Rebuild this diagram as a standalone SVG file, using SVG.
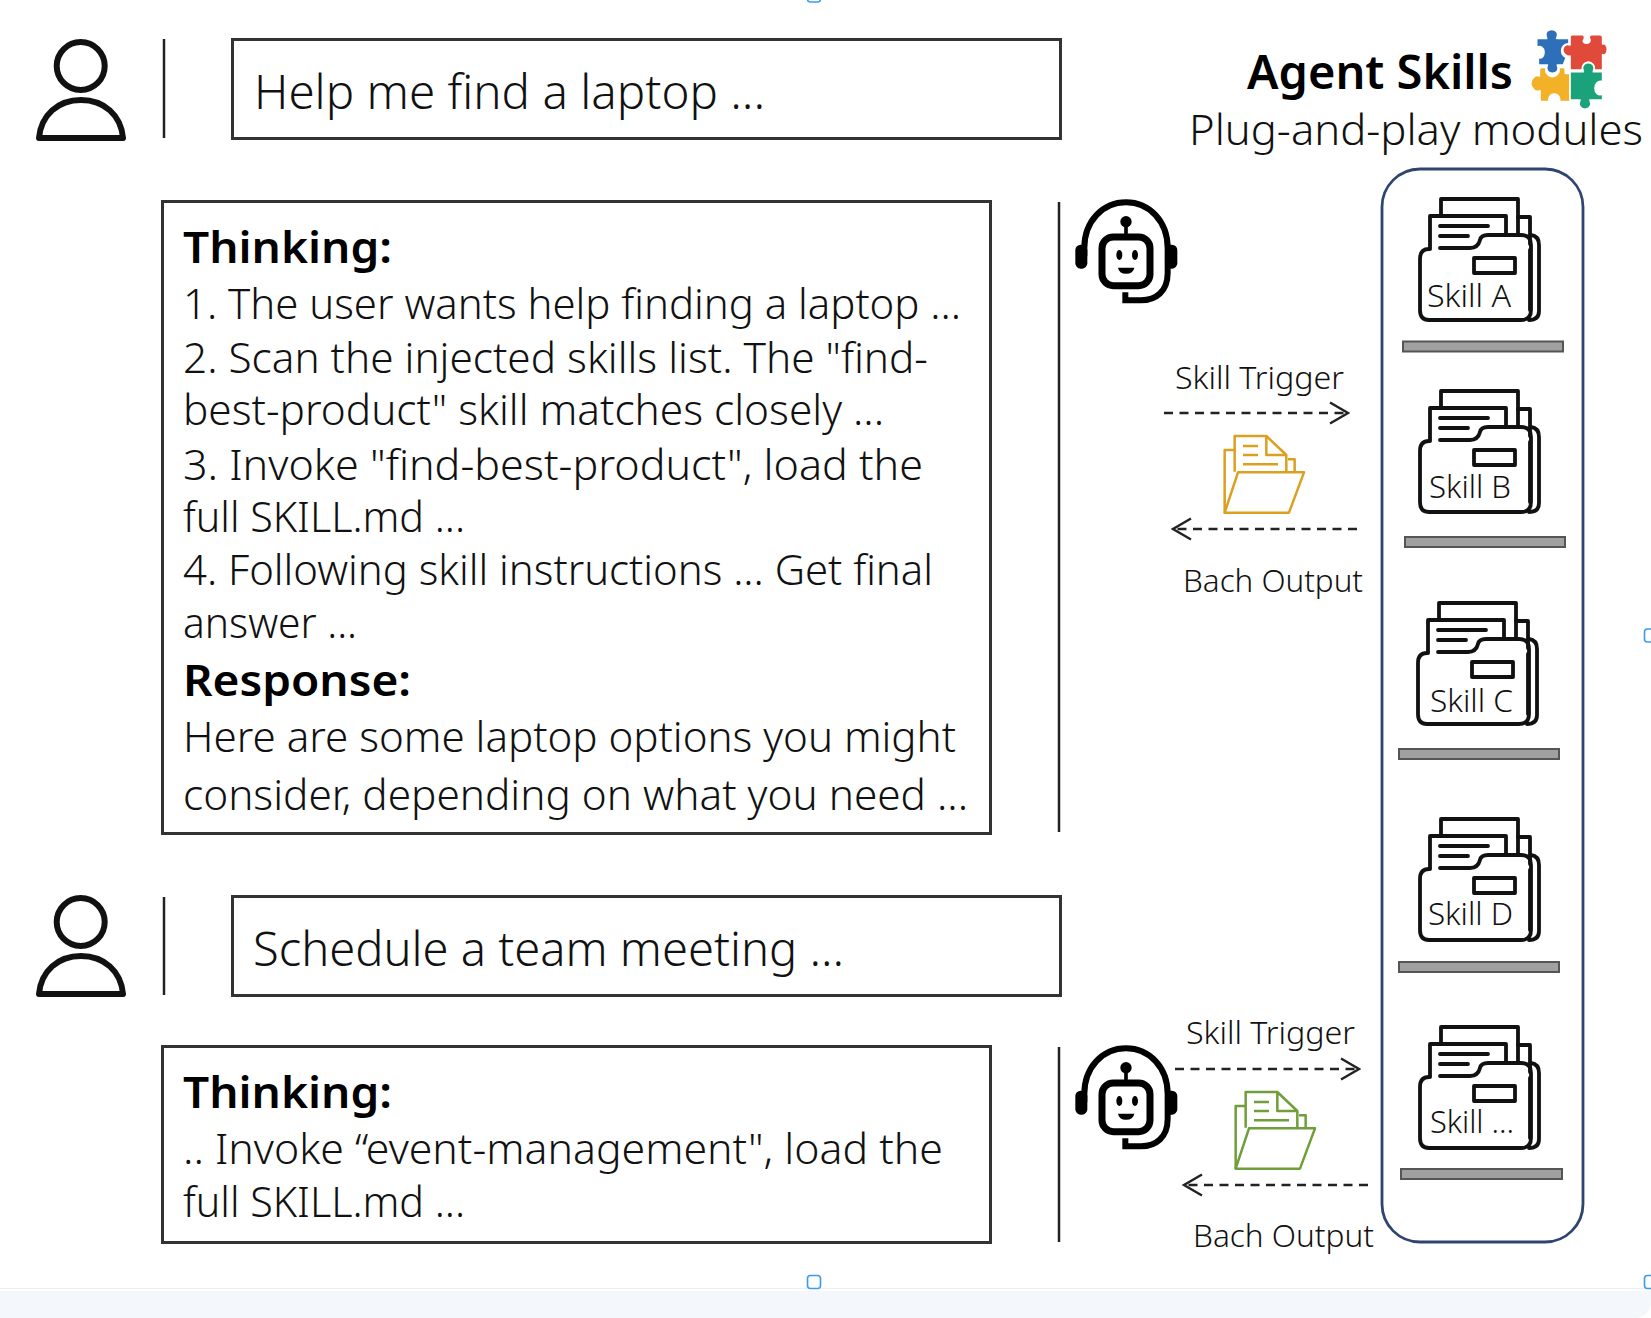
<svg xmlns="http://www.w3.org/2000/svg" xmlns:xlink="http://www.w3.org/1999/xlink" width="1651" height="1318" viewBox="0 0 1651 1318">
<style>
text{font-family:"Noto Sans","Liberation Sans",sans-serif;fill:#111;font-weight:300}
.b{font-size:43px}
.h{font-size:43px;font-weight:600;fill:#000}
.u{font-size:48px}
.s{font-size:31px}
.box{fill:#fff;stroke:#333;stroke-width:3}
.vl{stroke:#222;stroke-width:2.5;fill:none}
.ic{fill:none;stroke:#111;stroke-width:3.8;stroke-linejoin:round;stroke-linecap:round}
.shelf{fill:#a0a0a0;stroke:#555;stroke-width:2}
.dash{fill:none;stroke:#222;stroke-width:2.4;stroke-dasharray:9 6.5}
.hand{fill:#fcfdff;stroke:#3f9be8;stroke-width:1.6}
.pz{stroke:#fff;stroke-width:5;stroke-linejoin:round}
</style>
<defs>
<marker id="ah" viewBox="0 0 22 26" refX="20" refY="13" markerWidth="22" markerHeight="26" markerUnits="userSpaceOnUse" orient="auto-start-reverse"><path d="M2 2.500L20 13L2 23.500" fill="none" stroke="#222" stroke-width="2.400"/></marker>
<g id="person" fill="none" stroke="#111" stroke-width="6" stroke-linejoin="round">
<circle cx="80.700" cy="66" r="24"/>
<path d="M39 138C41 115 58 100 81 100C104 100 121 115 123 138Z"/>
</g>
<g id="folder" class="ic">
<path d="M23 18V1H100V36"/>
<path d="M12 50V18H88V36"/>
<path d="M100 19H112V46M112 52V112"/>
<path d="M113 37Q121 38 121 47V113Q121 122 111 122"/>
<path d="M22 50H52Q60 50 62 42Q63 37 70 37H103Q113 37 113 47V112Q113 122 103 122H11Q2 122 2 112V61Q2 51 11 51H12"/>
<path d="M22 28H70M22 38H50"/>
<rect x="56" y="60" width="41" height="15"/>
</g>
<g id="robot">
<path d="M55 190V165C55 85 110 28 180 28C250 28 305 85 305 165V240C305 295 270 322 225 322H178V298" fill="none" stroke="#000" stroke-width="18"/>
<rect x="28" y="155" width="36" height="72" rx="16" fill="#000"/>
<rect x="297" y="155" width="37" height="72" rx="16" fill="#000"/>
<rect x="108" y="132" width="144" height="146" rx="34" fill="#fff" stroke="#000" stroke-width="21"/>
<circle cx="180" cy="86" r="17" fill="#000"/>
<path d="M180 90V132" stroke="#000" stroke-width="11"/>
<ellipse cx="160" cy="186" rx="9" ry="15" fill="#000"/>
<ellipse cx="207" cy="186" rx="9" ry="15" fill="#000"/>
<path d="M156 224H205Q202 242 180 242Q159 242 156 224Z" fill="#000"/>
</g>
<g id="doc" fill="none" stroke="currentColor" stroke-width="7.500" stroke-linejoin="round">
<path d="M525 395V288H620L680 345V393M620 288V345H680"/>
<path d="M550 318H595M550 345H595M550 373H655"/>
<path d="M525 330H495V518M685 358H705V393"/>
<path d="M495 518L535 397H733L688 518Z"/>
</g>
</defs>

<g id="window-chrome">
<rect x="0" y="1288" width="1651" height="1" fill="#eceff2"/>
<path d="M0 1291H1651V1300Q1651 1318 1633 1318H0Z" fill="#f4f8fc"/>
<rect class="hand" x="807.500" y="-7" width="13" height="9" rx="3"/>
<rect class="hand" x="807.500" y="1275.500" width="13" height="13" rx="3"/>
<rect class="hand" x="1644.500" y="629" width="13" height="13" rx="3"/>
<rect class="hand" x="1644.500" y="1275.500" width="13" height="13" rx="3"/>
</g>

<g id="user-1">
<use href="#person"/>
<path class="vl" d="M164 39V138"/>
</g>
<g id="prompt-1">
<rect class="box" x="232.500" y="39.500" width="828" height="99"/>
<text class="u" x="254" y="109" textLength="511" lengthAdjust="spacingAndGlyphs">Help me find a laptop ...</text>
</g>
<g id="thinking-1">
<rect class="box" x="162.500" y="201.500" width="828" height="632"/>
<text class="h" x="183" y="263" textLength="209" lengthAdjust="spacingAndGlyphs">Thinking:</text>
<text class="b" x="183" y="319" textLength="778" lengthAdjust="spacingAndGlyphs">1. The user wants help finding a laptop ...</text>
<text class="b" x="183" y="373" textLength="745" lengthAdjust="spacingAndGlyphs">2. Scan the injected skills list. The "find-</text>
<text class="b" x="183" y="425" textLength="701" lengthAdjust="spacingAndGlyphs">best-product" skill matches closely ...</text>
<text class="b" x="183" y="480" textLength="740" lengthAdjust="spacingAndGlyphs">3. Invoke "find-best-product", load the</text>
<text class="b" x="183" y="532" textLength="282" lengthAdjust="spacingAndGlyphs">full SKILL.md ...</text>
<text class="b" x="183" y="585" textLength="750" lengthAdjust="spacingAndGlyphs">4. Following skill instructions ... Get final</text>
<text class="b" x="183" y="638" textLength="174" lengthAdjust="spacingAndGlyphs">answer ...</text>
<text class="h" x="183" y="696" textLength="228" lengthAdjust="spacingAndGlyphs">Response:</text>
<text class="b" x="183" y="752" textLength="773" lengthAdjust="spacingAndGlyphs">Here are some laptop options you might</text>
<text class="b" x="183" y="810" textLength="785" lengthAdjust="spacingAndGlyphs">consider, depending on what you need ...</text>
</g>
<g id="agent-1">
<path class="vl" d="M1059 202V832"/>
<use href="#robot" transform="translate(1066 193) scale(.3333)"/>
</g>

<g id="user-2">
<use href="#person" transform="translate(0 856)"/>
<path class="vl" d="M164 897V995"/>
</g>
<g id="prompt-2">
<rect class="box" x="232.500" y="896.500" width="828" height="99"/>
<text class="u" x="253" y="966" textLength="591" lengthAdjust="spacingAndGlyphs">Schedule a team meeting ...</text>
</g>
<g id="thinking-2">
<rect class="box" x="162.500" y="1046.500" width="828" height="196"/>
<text class="h" x="183" y="1108" textLength="209" lengthAdjust="spacingAndGlyphs">Thinking:</text>
<text class="b" x="183" y="1164" textLength="760" lengthAdjust="spacingAndGlyphs">.. Invoke “event-management", load the</text>
<text class="b" x="183" y="1217" textLength="282" lengthAdjust="spacingAndGlyphs">full SKILL.md ...</text>
</g>
<g id="agent-2">
<path class="vl" d="M1059 1047V1242"/>
<use href="#robot" transform="translate(1066 1039) scale(.3333)"/>
</g>

<g id="title">
<text x="1247" y="89" font-size="46" style="font-weight:600;fill:#000" textLength="266" lengthAdjust="spacingAndGlyphs">Agent Skills</text>
<text x="1189" y="145" font-size="42" textLength="454" lengthAdjust="spacingAndGlyphs">Plug-and-play modules</text>
<g id="puzzle" transform="translate(1520 20) scale(.3333)">
<path class="pz" fill="#f2b127" d="M58 150Q58 142 66 142H80C72 155 85 170 97 170C110 170 122 155 115 142H130Q136 142 136 150V160H150Q160 160 160 170V215H150Q158 235 150 245H118C122 235 115 222 103 222C90 222 83 235 88 245H60V212C48 220 32 205 32 190C32 175 48 162 58 168Z"/>
<path class="pz" fill="#e04a3a" d="M150 75V50Q150 44 158 44H188C195 44 195 58 190 62C188 72 212 72 210 60C205 52 208 44 216 44H240Q248 44 248 52V72C256 68 262 78 262 88C262 100 255 108 248 104V150H220C225 138 215 126 205 126C195 126 185 138 190 150H150V108C140 112 128 100 128 90C128 78 140 70 150 75Z"/>
<path class="pz" fill="#2e6fba" d="M50 55H80C72 35 85 28 95 28C108 28 118 38 110 55H147V72C130 70 125 85 125 92C125 105 135 112 140 110L130 135H112C120 150 110 160 97 160C85 160 75 150 82 135H55V112C68 118 72 105 72 95C72 85 62 75 50 82Z"/>
<path class="pz" fill="#1aa37a" d="M150 155H190C182 140 192 128 205 128C218 128 228 140 220 155H248V185C232 180 225 195 225 205C225 218 235 228 248 222V240H210C218 255 208 268 195 268C182 268 172 255 180 240H150Z"/>
</g>
</g>

<g id="skills-panel">
<rect x="1382" y="169" width="201" height="1073" rx="38" fill="none" stroke="#2f4570" stroke-width="2.800"/>
</g>
<g id="skill-a"><use href="#folder" transform="translate(1418 198)"/><text class="s" x="1427" y="307" textLength="84" lengthAdjust="spacingAndGlyphs">Skill A</text><rect class="shelf" x="1403" y="341.500" width="160" height="10"/></g>
<g id="skill-b"><use href="#folder" transform="translate(1418 390)"/><text class="s" x="1429" y="498" textLength="82" lengthAdjust="spacingAndGlyphs">Skill B</text><rect class="shelf" x="1405" y="537" width="160" height="10"/></g>
<g id="skill-c"><use href="#folder" transform="translate(1416 602)"/><text class="s" x="1430" y="712" textLength="83" lengthAdjust="spacingAndGlyphs">Skill C</text><rect class="shelf" x="1399" y="749" width="160" height="10"/></g>
<g id="skill-d"><use href="#folder" transform="translate(1418 818)"/><text class="s" x="1428" y="925" textLength="85" lengthAdjust="spacingAndGlyphs">Skill D</text><rect class="shelf" x="1399" y="962" width="160" height="10"/></g>
<g id="skill-more"><use href="#folder" transform="translate(1418 1026)"/><text class="s" x="1430" y="1133" textLength="84" lengthAdjust="spacingAndGlyphs">Skill ...</text><rect class="shelf" x="1401" y="1169" width="161" height="10"/></g>

<g id="connectors">
<path class="dash" d="M1164 413H1348" marker-end="url(#ah)"/>
<path class="dash" d="M1357 529H1173" marker-end="url(#ah)"/>
<path class="dash" d="M1175 1069H1359" marker-end="url(#ah)"/>
<path class="dash" d="M1368 1185H1184" marker-end="url(#ah)"/>
</g>
<g id="trigger-1">
<text class="s" x="1175" y="389" textLength="169" lengthAdjust="spacingAndGlyphs">Skill Trigger</text>
<use href="#doc" color="#dca021" transform="translate(1223 435) scale(.3333) translate(-490 -285)"/>
<text class="s" x="1183" y="592" textLength="180" lengthAdjust="spacingAndGlyphs">Bach Output</text>
</g>
<g id="trigger-2">
<text class="s" x="1186" y="1044" textLength="169" lengthAdjust="spacingAndGlyphs">Skill Trigger</text>
<use href="#doc" color="#6f9e3a" transform="translate(1234 1091) scale(.3333) translate(-490 -285)"/>
<text class="s" x="1193" y="1247" textLength="181" lengthAdjust="spacingAndGlyphs">Bach Output</text>
</g>
</svg>
